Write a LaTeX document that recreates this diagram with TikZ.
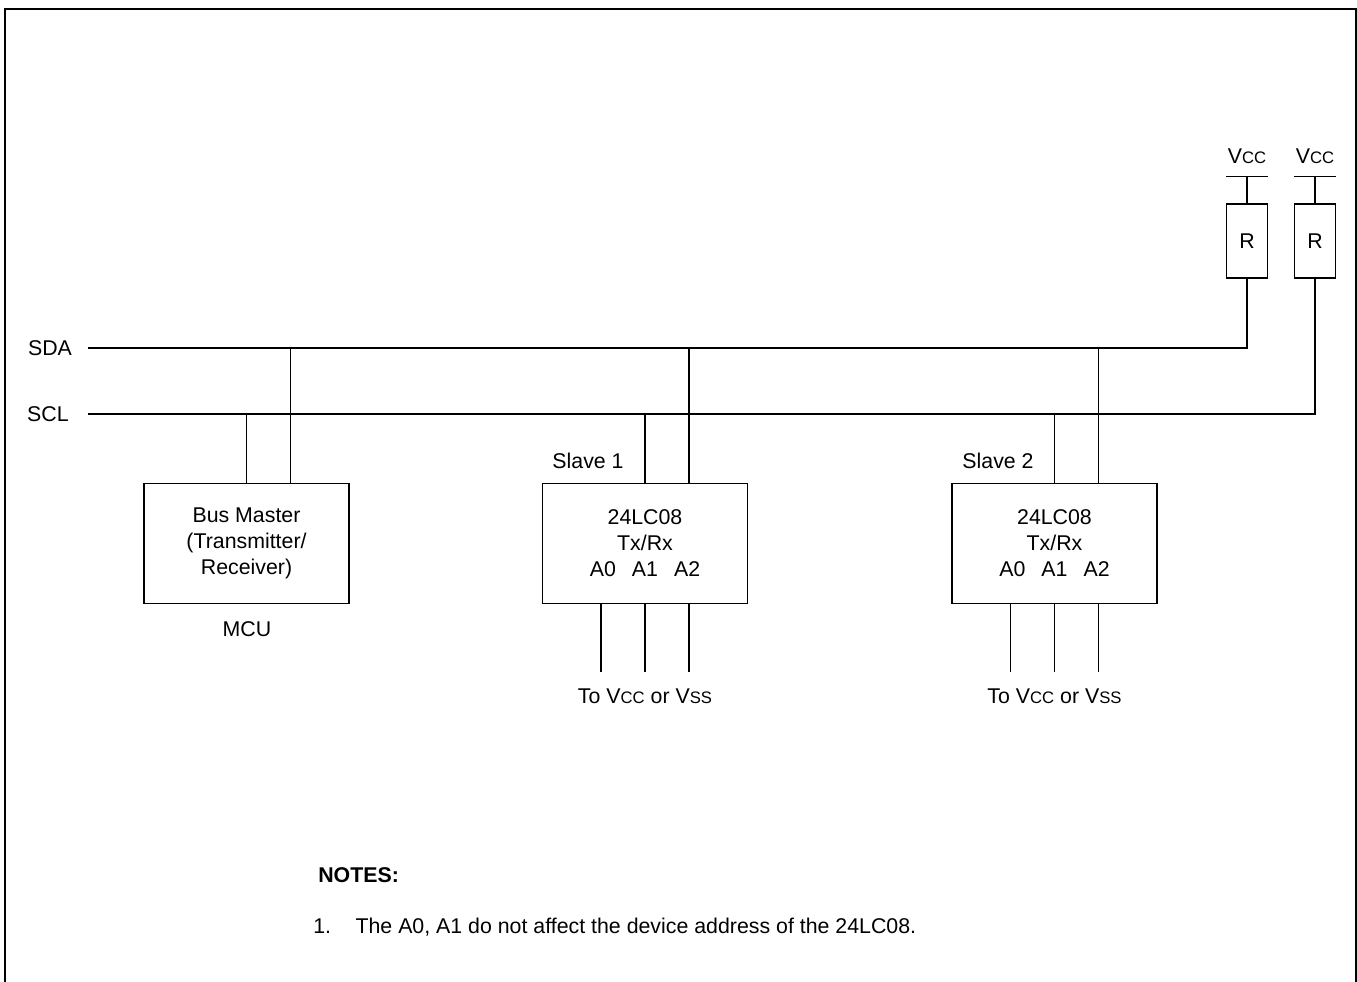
\documentclass[tikz,border=0pt]{standalone}
\usepackage{fontspec}
\setmainfont{Liberation Sans}
\usetikzlibrary{positioning}
\newcommand{\supplyVcc}{V{\fontsize{12.5}{14}\selectfont CC}}
\newcommand{\supplyVss}{V{\fontsize{12.5}{14}\selectfont SS}}

\begin{document}
\begin{tikzpicture}[x=0.75pt, y=-0.75pt,
  wire/.style={line width=1.1pt},
  chip/.style={draw, line width=1.1pt, minimum width=153.75pt, minimum height=90pt, inner sep=0pt, align=center, font=\fontsize{16}{19.5}\selectfont},
  res/.style={draw, line width=1.1pt, minimum width=31pt, minimum height=55.5pt, inner sep=0pt, font=\fontsize{16}{19}\selectfont},
  lbl/.style={inner sep=0pt, font=\fontsize{16}{19}\selectfont}]

\useasboundingbox (0,0) rectangle (1357,982);

% FRAME %
\draw[line width=1.5pt] (5,982) -- (5,9) -- (1356,9) -- (1356,982);

%%%%%%%%%%%%  Pull-up resistors %%%%%%%%%%%%%
{
\node[res] (r1) at (1247,241) {R};
\node[res] (r2) at (1315,241) {R};

\foreach \r in {r1, r2}
{
\draw[wire] (\r.north) -- ++(0,-27) coordinate (\r top);
\draw[wire] ([xshift=-15.75pt]\r top) -- ([xshift=15.75pt]\r top);
\node[lbl, above=9pt of \r top] (\r vcc) {\supplyVcc};
}
}

%%%%%%%%%%%%  Bus lines %%%%%%%%%%%%%
{
\node[lbl] (sda) at (50,348) {SDA};
\node[lbl] (scl) at (48,414) {SCL};

\coordinate (sdaStart) at (88,348);
\coordinate (sclStart) at (88,414);

\draw[wire] (sdaStart) -- (sdaStart -| r1.south) -- (r1.south);
\draw[wire] (sclStart) -- (sclStart -| r2.south) -- (r2.south);
}

%%%%%%%%%%%%  Devices %%%%%%%%%%%%%
{
\node[chip] (master) at (246.5,543.5) {Bus Master\\(Transmitter/\\Receiver)};
\node[chip] (slaveA) at (645,543.5) {24LC08\\Tx/Rx\\A0\hspace{0.75em}A1\hspace{0.75em}A2};
\node[chip] (slaveB) at (1054.5,543.5) {24LC08\\Tx/Rx\\A0\hspace{0.75em}A1\hspace{0.75em}A2};

\node[lbl] (mcu) at (247,629) {MCU};
\node[lbl] (slaveAname) at (588,461) {Slave 1};
\node[lbl] (slaveBname) at (998,461) {Slave 2};

% taps to SCL and SDA
\foreach \d in {master, slaveA, slaveB}
{
\draw[wire] (\d.north) -- (\d.north |- sclStart);
\draw[wire] ([xshift=33pt]\d.north) -- ([xshift=33pt]\d.north |- sdaStart);
}

% address pins
\foreach \d in {slaveA, slaveB}
{
\foreach \dx in {-33pt, 0pt, 33pt}
\draw[wire] ([xshift=\dx]\d.south) -- ++(0,68);
\node[lbl, below=63pt of \d.south] (\d to) {To \supplyVcc\ or \supplyVss};
}
}

%%%%%%%%%%%%  Notes %%%%%%%%%%%%%
\node[lbl, anchor=west, font=\fontsize{16}{19}\selectfont\bfseries] (notes) at (318,875) {NOTES:};
\node[lbl, anchor=west, font=\fontsize{16}{19}\selectfont] (note1) at (313,927) {1.\hspace{1.15em}The A0, A1 do not affect the device address of the 24LC08.};

\end{tikzpicture}
\end{document}
